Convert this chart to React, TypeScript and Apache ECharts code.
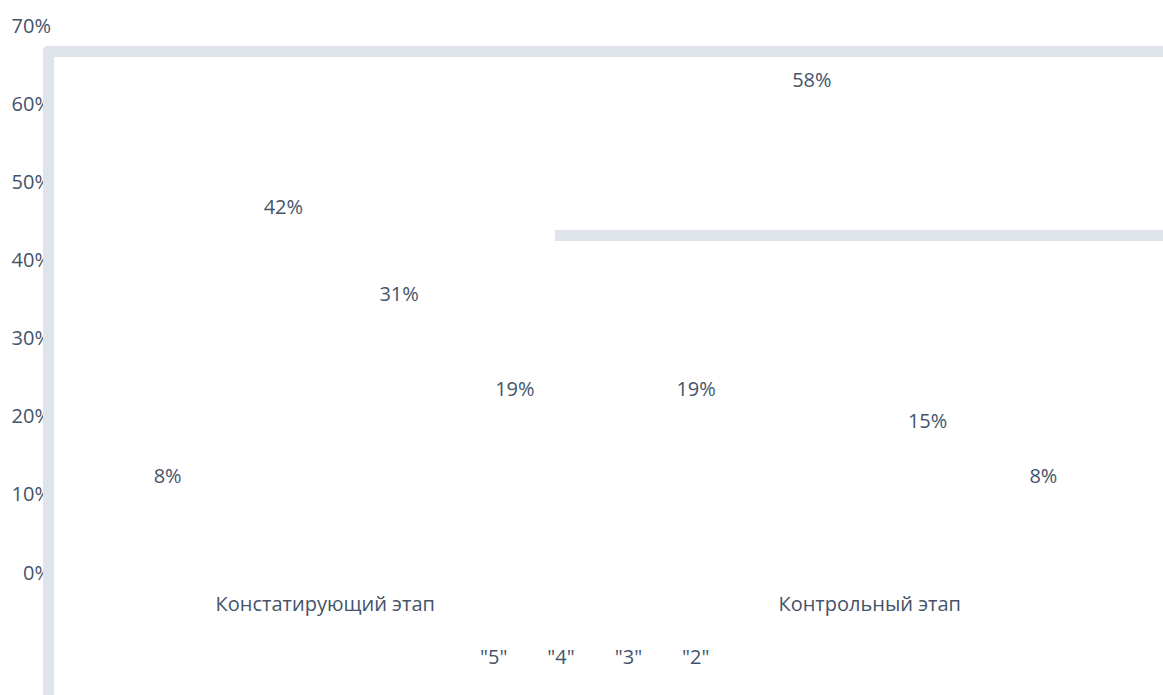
import React, { useEffect, useRef } from "react";
import * as echarts from "echarts";

const categories = ["Констатирующий этап", "Контрольный этап"];
const seriesNames = ['"5"', '"4"', '"3"', '"2"'];
const values5 = [8, 19];
const values4 = [42, 58];
const values3 = [31, 15];
const values2 = [19, 8];
const yTicks = [0, 10, 20, 30, 40, 50, 60, 70];

const TEXT = "#44546A";
const FONT = "Open Sans";
const WALL = "#DFE3EA";

export default function App() {
  const ref = useRef<HTMLDivElement>(null);
  useEffect(() => {
    if (!ref.current) return;
    const chart = echarts.init(ref.current, null, { renderer: "svg" });
    const seriesData = [values5, values4, values3, values2];
    chart.setOption({
      animation: false,
      backgroundColor: "#ffffff",
      textStyle: { fontFamily: FONT },
      grid: [
        { left: 53, right: 21, top: 25, bottom: 123 },
        { left: 77, right: 29, top: 0, bottom: 141 },
      ],
      xAxis: [
        {
          type: "category",
          gridIndex: 0,
          data: categories,
          axisLine: { show: false },
          axisTick: { show: false },
          axisLabel: { color: TEXT, fontSize: 20, fontFamily: FONT, margin: 21 },
        },
        {
          type: "category",
          gridIndex: 1,
          data: categories,
          show: false,
        },
      ],
      yAxis: [
        {
          type: "value",
          gridIndex: 0,
          min: yTicks[0],
          max: yTicks[yTicks.length - 1],
          interval: 10,
          axisLine: { show: false },
          axisTick: { show: false },
          splitLine: { show: false },
          axisLabel: {
            color: TEXT,
            fontSize: 20,
            fontFamily: FONT,
            margin: 2,
            formatter: "{value}%",
          },
        },
        {
          type: "value",
          gridIndex: 1,
          min: 0,
          max: 70,
          show: false,
        },
      ],
      legend: {
        data: seriesNames,
        left: 460,
        top: 641,
        itemWidth: 10,
        itemHeight: 10,
        itemGap: 25,
        textStyle: { color: TEXT, fontSize: 20, fontFamily: FONT },
      },
      graphic: [
        {
          type: "rect",
          z: 100,
          shape: { x: 43, y: 46, width: 11, height: 660, r: [5, 0, 0, 0] },
          style: { fill: WALL },
        },
        {
          type: "rect",
          z: 100,
          shape: { x: 43, y: 46, width: 1130, height: 11, r: [5, 0, 0, 0] },
          style: { fill: WALL },
        },
        {
          type: "rect",
          z: 100,
          shape: { x: 555, y: 230, width: 620, height: 11 },
          style: { fill: WALL },
        },
      ],
      series: seriesNames.map((name, i) => ({
        name,
        type: "bar",
        xAxisIndex: 1,
        yAxisIndex: 1,
        data: seriesData[i],
        barGap: "0%",
        barCategoryGap: "12.4%",
        itemStyle: { color: "rgba(0,0,0,0)" },
        label: {
          show: true,
          position: "top",
          distance: 5,
          color: TEXT,
          fontSize: 20,
          fontFamily: FONT,
          formatter: "{c}%",
        },
      })),
    });
    return () => chart.dispose();
  }, []);
  return (
    <div
      ref={ref}
      style={{ position: "absolute", left: 0, top: 0, width: 1163, height: 695 }}
    />
  );
}
